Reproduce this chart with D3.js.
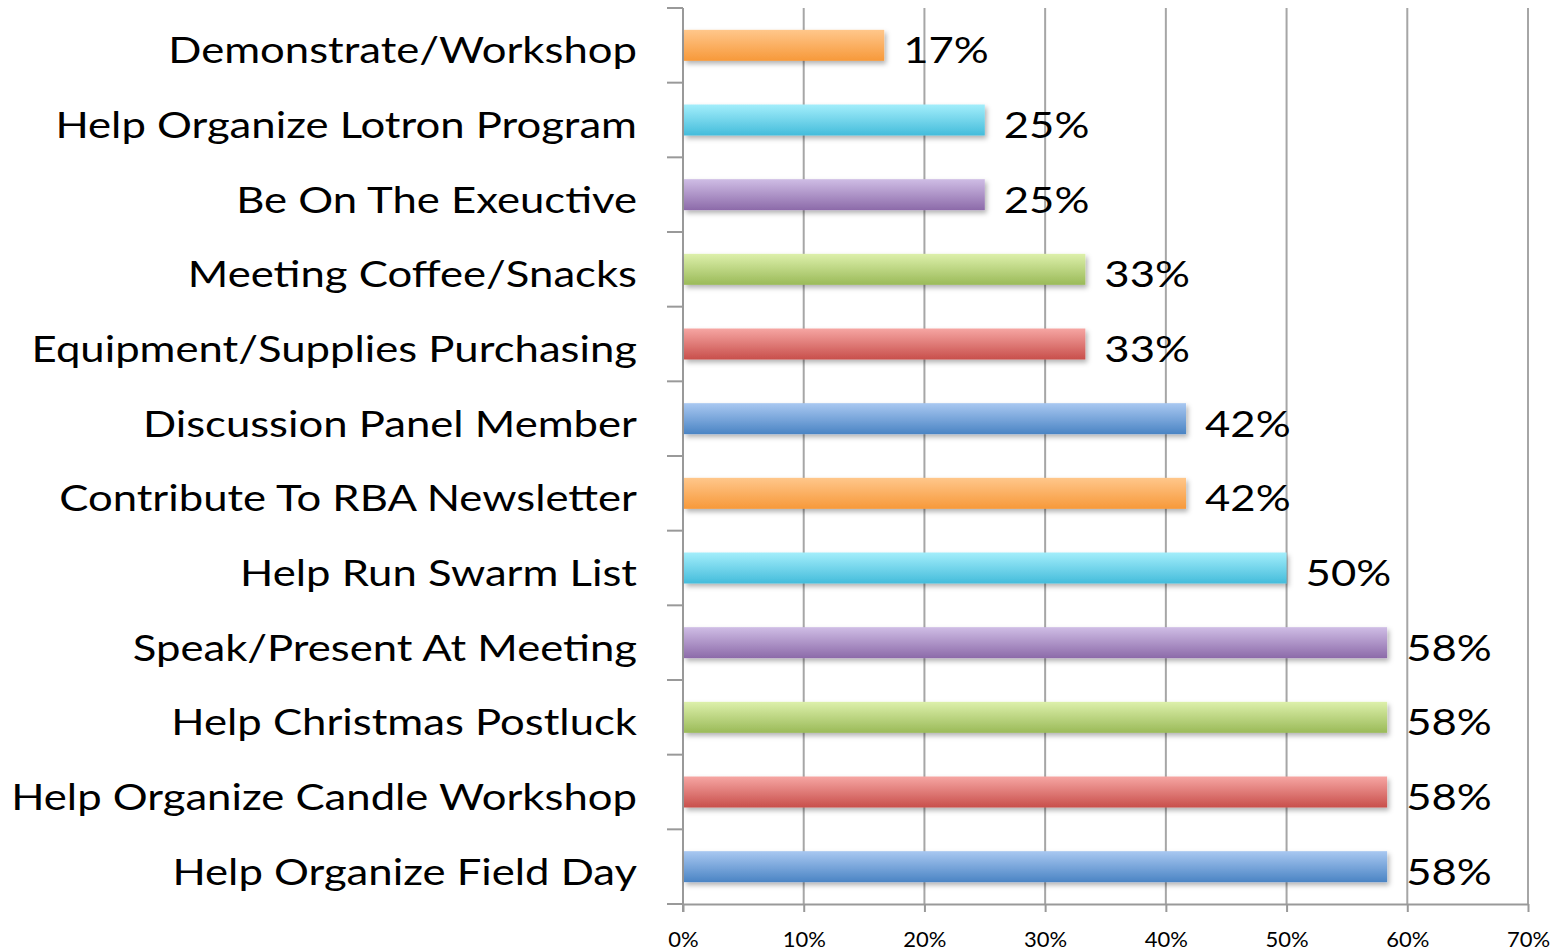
<!DOCTYPE html>
<html>
<head>
<meta charset="utf-8">
<script src="https://cdn.jsdelivr.net/npm/d3@7"></script>
<style>
  body { margin: 0; background: #fff; }
  .cat-label { font-family: Lato, "Open Sans", sans-serif; fill: #000; }
  .val-label { font-family: Lato, "Open Sans", sans-serif; fill: #000; }
  .x-axis text { font-family: Lato, "Open Sans", sans-serif; fill: #000; }
</style>
</head>
<body>
<div id="chart"></div>
<script>
const categories = [
    'Demonstrate/Workshop',
    'Help Organize Lotron Program',
    'Be On The Exeuctive',
    'Meeting Coffee/Snacks',
    'Equipment/Supplies Purchasing',
    'Discussion Panel Member',
    'Contribute To RBA Newsletter',
    'Help Run Swarm List',
    'Speak/Present At Meeting',
    'Help Christmas Postluck',
    'Help Organize Candle Workshop',
    'Help Organize Field Day'
];
const values = [0.1667, 0.25, 0.25, 0.3333, 0.3333, 0.4167, 0.4167, 0.50, 0.5833, 0.5833, 0.5833, 0.5833];
const xTicks = [0, 0.1, 0.2, 0.3, 0.4, 0.5, 0.6, 0.7];
// top/bottom gradient colours, cycling from the bottom bar upward
const palette = [
    ['#a9c8f1', '#4a84c4'],
    ['#f6a6a3', '#c84f4b'],
    ['#ddf0ab', '#9aba58'],
    ['#cfbde5', '#8c6aa9'],
    ['#a3eefb', '#44bcdb'],
    ['#ffc78b', '#f7993a']
];

const config = {
    containerWidth: 1558,
    containerHeight: 952,
    margin: { top: 8, right: 30, bottom: 48, left: 683 }
};
const width = config.containerWidth - config.margin.left - config.margin.right;
const height = config.containerHeight - config.margin.top - config.margin.bottom;
const stretch = 1.18; // labels in the original are wider than Lato

const svg = d3.select('#chart').append('svg')
    .attr('width', config.containerWidth)
    .attr('height', config.containerHeight);

const defs = svg.append('defs');
palette.forEach((c, i) => {
    const g = defs.append('linearGradient')
        .attr('id', 'grad' + i)
        .attr('x1', 0).attr('y1', 0).attr('x2', 0).attr('y2', 1);
    g.append('stop').attr('offset', '0%').attr('stop-color', c[0]);
    g.append('stop').attr('offset', '100%').attr('stop-color', c[1]);
});
defs.append('filter')
    .attr('id', 'shadow')
    .attr('x', '-5%').attr('y', '-30%').attr('width', '110%').attr('height', '180%')
    .append('feDropShadow')
    .attr('dx', 2).attr('dy', 3).attr('stdDeviation', 2.5)
    .attr('flood-color', '#000').attr('flood-opacity', 0.3);

const chart = svg.append('g')
    .attr('transform', `translate(${config.margin.left},${config.margin.top})`);

const xScale = d3.scaleLinear().domain([0, 0.7]).range([0, width]);
const yScale = d3.scaleBand()
    .domain(categories)
    .range([0, height])
    .paddingInner(0.585)
    .paddingOuter(0.2925);

// vertical gridlines
chart.append('g')
    .selectAll('line')
    .data(xTicks.slice(1))
    .join('line')
    .attr('x1', d => xScale(d)).attr('x2', d => xScale(d))
    .attr('y1', 0).attr('y2', height)
    .attr('stroke', '#a6a6a6')
    .attr('stroke-width', 2);

// x axis
const xAxis = d3.axisBottom(xScale)
    .tickValues(xTicks)
    .tickFormat(d3.format('.0%'))
    .tickSize(8)
    .tickSizeOuter(0)
    .tickPadding(19);
chart.append('g')
    .attr('class', 'x-axis')
    .attr('transform', `translate(0,${height})`)
    .call(xAxis)
    .call(g => g.selectAll('line, path').attr('stroke', '#999').attr('stroke-width', 2))
    .call(g => g.selectAll('text').attr('font-size', 22));

// y axis with ticks on category boundaries
const step = yScale.step();
const yAxisG = chart.append('g').attr('class', 'y-axis');
yAxisG.append('line')
    .attr('x1', 0).attr('x2', 0).attr('y1', 0).attr('y2', height + 8)
    .attr('stroke', '#999').attr('stroke-width', 2);
yAxisG.selectAll('.ytick')
    .data(d3.range(categories.length + 1))
    .join('line')
    .attr('class', 'ytick')
    .attr('x1', -16).attr('x2', 0)
    .attr('y1', i => i * step).attr('y2', i => i * step)
    .attr('stroke', '#999').attr('stroke-width', 2);

// bars
const n = categories.length;
chart.selectAll('.bar')
    .data(categories)
    .join('rect')
    .attr('class', 'bar')
    .attr('x', 1)
    .attr('y', d => yScale(d))
    .attr('width', (d, i) => xScale(values[i]) - 1)
    .attr('height', yScale.bandwidth())
    .attr('fill', (d, i) => `url(#grad${(n - 1 - i) % palette.length})`)
    .attr('filter', 'url(#shadow)');

// value labels
chart.selectAll('.val-label')
    .data(categories)
    .join('text')
    .attr('class', 'val-label')
    .attr('transform', (d, i) =>
        `translate(${xScale(values[i]) + 19},${yScale(d) + yScale.bandwidth() / 2}) scale(${stretch},1)`)
    .attr('dy', '0.49em')
    .attr('font-size', 37)
    .text((d, i) => d3.format('.0%')(values[i]));

// category labels
chart.selectAll('.cat-label')
    .data(categories)
    .join('text')
    .attr('class', 'cat-label')
    .attr('transform', d =>
        `translate(-46,${yScale(d) + yScale.bandwidth() / 2}) scale(${stretch},1)`)
    .attr('dy', '0.49em')
    .attr('text-anchor', 'end')
    .attr('font-size', 37)
    .text(d => d);
</script>
</body>
</html>
